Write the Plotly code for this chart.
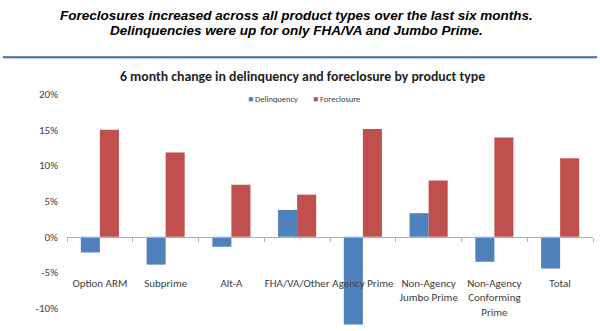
import plotly.graph_objects as go

# Six-month change by product type (percent)
categories = [
    "Option ARM", "Subprime", "Alt-A", "FHA/VA/Other", "Agency Prime",
    "Non-Agency<br>Jumbo Prime", "Non-Agency<br>Conforming<br>Prime", "Total",
]
delinquency = [-2.2, -3.9, -1.4, 3.75, -12.3, 3.3, -3.5, -4.45]
foreclosure = [15.0, 11.8, 7.3, 5.9, 15.1, 7.9, 13.9, 11.0]
y_ticks = [-10, -5, 0, 5, 10, 15, 20]

heading_lines = [
    "Foreclosures increased across all product types over the last six months.",
    "Delinquencies were up for only FHA/VA and Jumbo Prime.",
]
chart_title = "6 month change in delinquency and foreclosure by product type"

BLUE = "#4F81BD"
RED = "#C0504D"
AXIS = "#8DB4E2"
TEXT = "#404040"
BODY_FONT = "Carlito, Lato, sans-serif"

W, H = 600, 331
ML, MR, MT, MB = 67, 7, 94, 0
y_range = [-13.2, 20]


def px_x(px):
    return (px - ML) / (W - ML - MR)


def px_y(py):
    return (H - MB - py) / (H - MT - MB)


fig = go.Figure()
fig.add_trace(go.Bar(name="Delinquency", x=categories, y=delinquency,
                     marker=dict(color=BLUE, line=dict(width=0))))
fig.add_trace(go.Bar(name="Foreclosure", x=categories, y=foreclosure,
                     marker=dict(color=RED, line=dict(width=0))))

# category axis drawn along the 0% line
zero_pos = (0 - y_range[0]) / (y_range[1] - y_range[0])

fig.update_layout(
    width=W, height=H,
    margin=dict(l=ML, r=MR, t=MT, b=MB, pad=0),
    paper_bgcolor="white", plot_bgcolor="white",
    barmode="group", bargap=0.42, bargroupgap=0,
    showlegend=False,
    title=dict(text="<b>" + chart_title + "</b>", x=302.5 / W, xanchor="center",
               y=1 - 76.5 / H, yanchor="middle",
               font=dict(family=BODY_FONT, size=13.8, color="#1F1F1F")),
    xaxis=dict(
        anchor="free", position=zero_pos,
        showline=True, linecolor=AXIS, linewidth=1,
        ticks="outside", tickson="boundaries", ticklen=4, tickcolor=AXIS,
        showgrid=False, zeroline=False,
        tickangle=0,
        ticklabelstandoff=36,
        tickfont=dict(family=BODY_FONT, size=11, color=TEXT),
    ),
    yaxis=dict(
        range=y_range, tickvals=y_ticks,
        ticktext=[f"{v}%" for v in y_ticks],
        showgrid=False, zeroline=False, showline=False, ticks="",
        ticklabelstandoff=8,
        tickfont=dict(family=BODY_FONT, size=11, color=TEXT),
    ),
)

# slide heading
for text, cy in zip(heading_lines, [15.0, 30.5]):
    fig.add_annotation(text="<b><i>" + text + "</i></b>", xref="paper", yref="paper",
                       x=px_x(296.7), y=px_y(cy), xanchor="center", yanchor="middle",
                       showarrow=False,
                       font=dict(family="Liberation Sans, Arial, sans-serif", size=13.5,
                                 color="black"))

# rule under the heading
fig.add_shape(type="line", xref="paper", yref="paper",
              x0=px_x(3), x1=px_x(597), y0=px_y(57.3), y1=px_y(57.3),
              line=dict(color="#3A6EA8", width=2))

# legend entries
for name, color, left in [("Delinquency", BLUE, 246.0), ("Foreclosure", RED, 310.5)]:
    fig.add_annotation(text=f"<span style='color:{color}'>■</span> {name}",
                       xref="paper", yref="paper", x=px_x(left), y=px_y(99),
                       xanchor="left", yanchor="middle", showarrow=False,
                       font=dict(family=BODY_FONT, size=8.5, color=TEXT))

fig.write_html("out.html")
